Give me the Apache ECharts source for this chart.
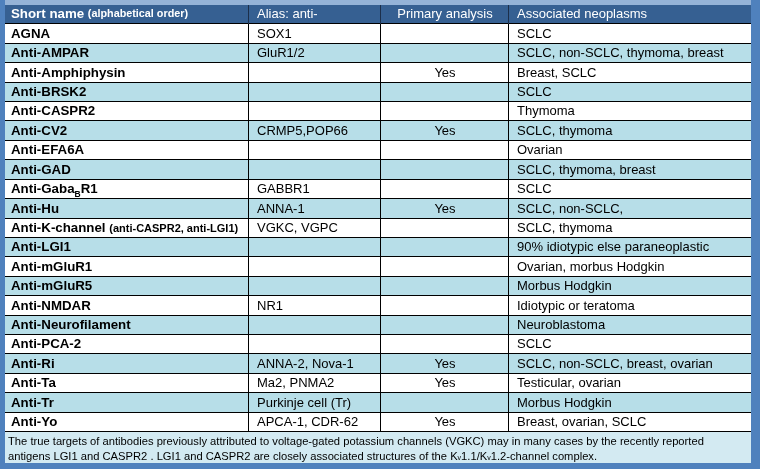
<!DOCTYPE html>
<html>
<head>
<meta charset="utf-8">
<script src="https://cdn.jsdelivr.net/npm/echarts@6/dist/echarts.min.js"></script>
<style>
  html, body { margin: 0; padding: 0; }
  #chart { width: 760px; height: 469px; }
</style>
</head>
<body>
<div id="chart"></div>
<script>
// table content
const headers = ['Short name', 'Alias: anti-', 'Primary analysis', 'Associated neoplasms'];
const names = [
  'AGNA', 'Anti-AMPAR', 'Anti-Amphiphysin', 'Anti-BRSK2', 'Anti-CASPR2', 'Anti-CV2',
  'Anti-EFA6A', 'Anti-GAD', 'Anti-Gaba{sub|B}R1', 'Anti-Hu',
  'Anti-K-channel {small|(anti-CASPR2, anti-LGI1)}', 'Anti-LGI1', 'Anti-mGluR1',
  'Anti-mGluR5', 'Anti-NMDAR', 'Anti-Neurofilament', 'Anti-PCA-2', 'Anti-Ri',
  'Anti-Ta', 'Anti-Tr', 'Anti-Yo'
];
const aliases = [
  'SOX1', 'GluR1/2', '', '', '', 'CRMP5,POP66', '', '', 'GABBR1', 'ANNA-1',
  'VGKC, VGPC', '', '', '', 'NR1', '', '', 'ANNA-2, Nova-1', 'Ma2, PNMA2',
  'Purkinje cell (Tr)', 'APCA-1, CDR-62'
];
const primary = [
  '', '', 'Yes', '', '', 'Yes', '', '', '', 'Yes', '', '', '', '', '', '', '',
  'Yes', 'Yes', '', 'Yes'
];
const neoplasms = [
  'SCLC', 'SCLC, non-SCLC, thymoma, breast', 'Breast, SCLC', 'SCLC', 'Thymoma',
  'SCLC, thymoma', 'Ovarian', 'SCLC, thymoma, breast', 'SCLC', 'SCLC, non-SCLC,',
  'SCLC, thymoma', '90% idiotypic else paraneoplastic', 'Ovarian, morbus Hodgkin',
  'Morbus Hodgkin', 'Idiotypic or teratoma', 'Neuroblastoma', 'SCLC',
  'SCLC, non-SCLC, breast, ovarian', 'Testicular, ovarian', 'Morbus Hodgkin',
  'Breast, ovarian, SCLC'
];
const footnote = [
  'The true targets of antibodies previously attributed to voltage-gated potassium channels (VGKC) may in many cases by the recently reported',
  'antigens LGI1 and CASPR2 . LGI1 and CASPR2 are closely associated structures of the K{sub|v}1.1/K{sub|v}1.2-channel complex.'
];

// layout
const colEdges = [0, 244, 376, 504, 746];
const FONT = 'Liberation Sans';

const chart = echarts.init(document.getElementById('chart'));

// cells: [col, row] ; row 0 = header
const cells = [];
const columns = [names, aliases, primary, neoplasms];
for (let c = 0; c < 4; c++) {
  cells.push([c, 0, c === 0 ? 'Short name {hsmall|(alphabetical order)}' : headers[c]]);
  for (let r = 0; r < names.length; r++) {
    cells.push([c, r + 1, columns[c][r]]);
  }
}

const rich = {
  sub: { fontSize: 8.5, fontWeight: 'bold', fontFamily: FONT, verticalAlign: 'bottom', lineHeight: 8, padding: [0, 0, -3, 0] },
  small: { fontSize: 11, fontWeight: 'bold', fontFamily: FONT },
  hsmall: { fontSize: 10.8, fontWeight: 'bold', fontFamily: FONT, fill: '#fff', color: '#fff' }
};

const renderCell = (params, api) => {
  const col = api.value(0);
  const row = api.value(1);
  const text = cells[params.dataIndex][2];
  const p0 = api.coord([colEdges[col], row]);
  const p1 = api.coord([colEdges[col + 1], row]);
  const h = api.size([0, 1])[1];
  const x0 = Math.round(p0[0]);
  const x1 = Math.round(p1[0]);
  const y0 = Math.round(p0[1] - h / 2);
  const y1 = Math.round(p0[1] + h / 2);
  const isHeader = row === 0;
  const fill = isHeader ? '#366092' : (row % 2 === 0 ? '#b7dee8' : '#ffffff');
  const children = [
    { type: 'rect', shape: { x: x0, y: y0, width: x1 - x0, height: y1 - y0 }, style: { fill: fill } },
    { type: 'line', shape: { x1: x0, y1: y1 - 0.5, x2: x1, y2: y1 - 0.5 }, style: { stroke: '#000', lineWidth: 1 } }
  ];
  if (col < 3) {
    children.push({ type: 'line', shape: { x1: x1 - 0.5, y1: y0, x2: x1 - 0.5, y2: y1 }, style: { stroke: isHeader ? '#1c2f4a' : '#000', lineWidth: 1 } });
  }
  let tx = x0 + (col === 0 ? 6 : 8);
  let align = 'left';
  if (col === 2) { tx = (x0 + x1) / 2; align = 'center'; }
  const bold = col === 0;
  children.push({
    type: 'text',
    style: {
      text: text,
      x: tx,
      y: (y0 + y1) / 2,
      align: align,
      verticalAlign: 'middle',
      fill: isHeader ? '#ffffff' : '#000000',
      fontFamily: FONT,
      fontSize: bold ? 13.3 : 13,
      fontWeight: bold ? 'bold' : 'normal',
      rich: rich
    }
  });
  return { type: 'group', children: children };
};

const option = {
  backgroundColor: '#4f81bd',
  animation: false,
  grid: { left: 5, right: 9, top: 5, bottom: 37 },
  xAxis: { type: 'value', min: 0, max: 746, show: false },
  yAxis: {
    type: 'category',
    inverse: true,
    show: false,
    data: ['header'].concat(names.map((n, i) => String(i + 1)))
  },
  graphic: [
    { type: 'rect', left: 5, top: 0, shape: { width: 746, height: 5 }, style: { fill: '#95b3d7' } },
    { type: 'rect', left: 5, top: 432, shape: { width: 746, height: 31 }, style: { fill: '#d3eaf2' } },
    {
      type: 'text', left: 8, top: 434,
      style: {
        text: footnote.join('\n'),
        fill: '#000',
        fontFamily: FONT,
        fontSize: 11.2,
        lineHeight: 15,
        rich: {
          sub: { fontSize: 7, fontFamily: FONT, lineHeight: 15, padding: [4, 0, 0, 0] }
        }
      }
    }
  ],
  series: [{
    type: 'custom',
    renderItem: renderCell,
    data: cells.map(c => [c[0], c[1]]),
    silent: true
  }]
};

chart.setOption(option);
</script>
</body>
</html>
